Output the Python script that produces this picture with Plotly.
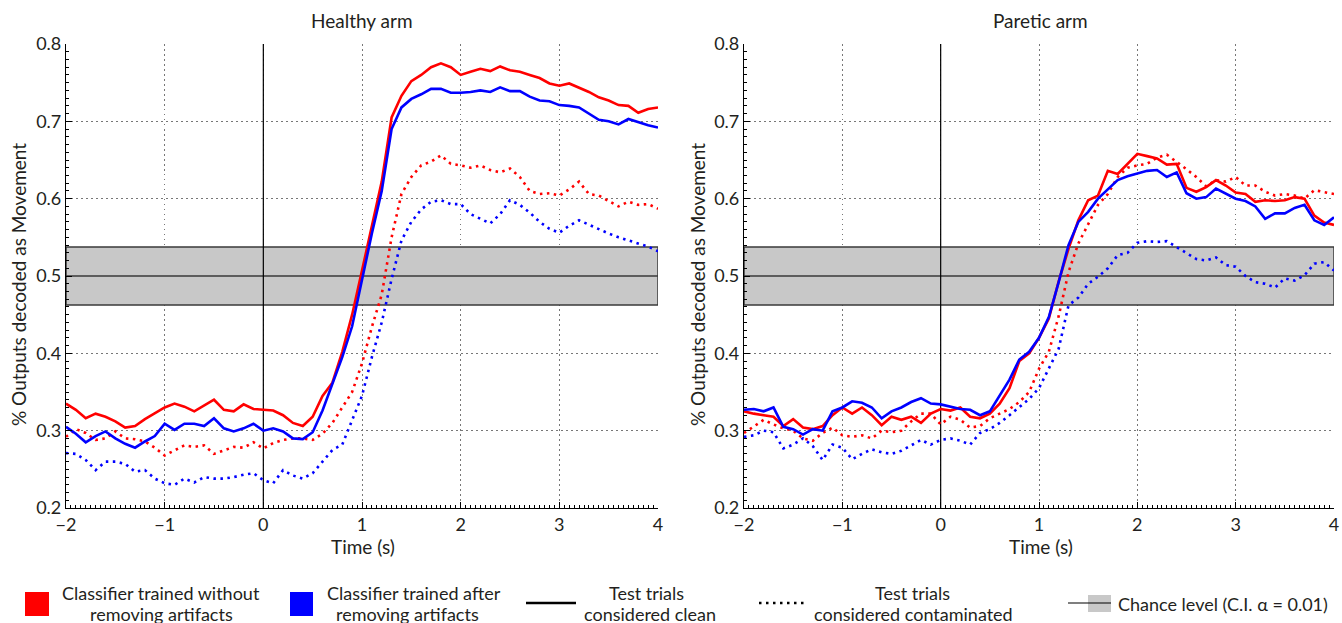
import plotly.graph_objects as go

# ---------------- data ----------------
TIME = [round(-2 + 0.1 * i, 1) for i in range(61)]

HEALTHY_RED_CLEAN = [
    0.335, 0.327, 0.316, 0.322, 0.318, 0.312, 0.304, 0.306, 0.315, 0.322,
    0.330, 0.335, 0.331, 0.325, 0.332, 0.340, 0.327, 0.325, 0.334, 0.328,
    0.327, 0.326, 0.320, 0.310, 0.306, 0.318, 0.345, 0.362, 0.402, 0.450,
    0.507, 0.566, 0.622, 0.705, 0.733, 0.752, 0.760, 0.770, 0.775, 0.770,
    0.760, 0.764, 0.768, 0.765, 0.771, 0.766, 0.764, 0.760, 0.756, 0.749,
    0.746, 0.749, 0.744, 0.738, 0.731, 0.727, 0.721, 0.720, 0.711, 0.716,
    0.718]
HEALTHY_BLUE_CLEAN = [
    0.305, 0.296, 0.285, 0.293, 0.299, 0.290, 0.283, 0.278, 0.286, 0.293,
    0.309, 0.301, 0.309, 0.309, 0.306, 0.316, 0.303, 0.299, 0.303, 0.309,
    0.300, 0.303, 0.299, 0.290, 0.289, 0.298, 0.326, 0.360, 0.395, 0.435,
    0.497, 0.555, 0.610, 0.690, 0.718, 0.729, 0.735, 0.742, 0.742, 0.737,
    0.737, 0.738, 0.740, 0.738, 0.744, 0.739, 0.739, 0.732, 0.727, 0.726,
    0.721, 0.720, 0.718, 0.710, 0.702, 0.700, 0.696, 0.703, 0.699, 0.695,
    0.692]
HEALTHY_RED_CONTAM = [
    0.292, 0.302, 0.297, 0.288, 0.290, 0.299, 0.290, 0.289, 0.286, 0.278,
    0.268, 0.274, 0.281, 0.279, 0.281, 0.270, 0.275, 0.279, 0.278, 0.285,
    0.277, 0.284, 0.288, 0.290, 0.290, 0.288, 0.296, 0.310, 0.330, 0.350,
    0.387, 0.434, 0.476, 0.550, 0.606, 0.628, 0.643, 0.648, 0.656, 0.645,
    0.643, 0.640, 0.643, 0.637, 0.634, 0.639, 0.628, 0.610, 0.606, 0.607,
    0.604, 0.612, 0.622, 0.606, 0.604, 0.597, 0.590, 0.596, 0.592, 0.593,
    0.587]
HEALTHY_BLUE_CONTAM = [
    0.271, 0.270, 0.262, 0.249, 0.260, 0.260, 0.257, 0.247, 0.249, 0.238,
    0.232, 0.230, 0.238, 0.233, 0.240, 0.238, 0.238, 0.240, 0.243, 0.245,
    0.236, 0.232, 0.249, 0.242, 0.238, 0.245, 0.260, 0.275, 0.282, 0.314,
    0.345, 0.395, 0.440, 0.496, 0.546, 0.570, 0.586, 0.596, 0.598, 0.593,
    0.593, 0.580, 0.574, 0.568, 0.580, 0.598, 0.592, 0.582, 0.570, 0.561,
    0.556, 0.565, 0.572, 0.566, 0.560, 0.555, 0.550, 0.546, 0.541, 0.538,
    0.532]

PARETIC_RED_CLEAN = [
    0.325, 0.322, 0.320, 0.318, 0.306, 0.315, 0.304, 0.302, 0.306, 0.320,
    0.330, 0.322, 0.330, 0.320, 0.307, 0.318, 0.314, 0.318, 0.310, 0.322,
    0.328, 0.326, 0.330, 0.318, 0.316, 0.322, 0.335, 0.355, 0.390, 0.400,
    0.420, 0.445, 0.493, 0.535, 0.572, 0.598, 0.604, 0.636, 0.632, 0.645,
    0.658, 0.655, 0.652, 0.644, 0.645, 0.614, 0.609, 0.615, 0.624, 0.617,
    0.608, 0.606, 0.596, 0.598, 0.597, 0.598, 0.602, 0.600, 0.578, 0.569,
    0.566]
PARETIC_BLUE_CLEAN = [
    0.327, 0.328, 0.325, 0.330, 0.305, 0.302, 0.295, 0.302, 0.300, 0.325,
    0.330, 0.338, 0.336, 0.330, 0.316, 0.325, 0.330, 0.337, 0.342, 0.335,
    0.334, 0.331, 0.328, 0.327, 0.320, 0.325, 0.346, 0.366, 0.392, 0.402,
    0.420, 0.447, 0.492, 0.540, 0.570, 0.583, 0.600, 0.612, 0.624, 0.629,
    0.632, 0.636, 0.637, 0.628, 0.634, 0.607, 0.600, 0.602, 0.613, 0.606,
    0.600, 0.597, 0.590, 0.574, 0.581, 0.581, 0.588, 0.592, 0.572, 0.566,
    0.576]
PARETIC_RED_CONTAM = [
    0.297, 0.305, 0.314, 0.308, 0.303, 0.300, 0.290, 0.287, 0.297, 0.304,
    0.294, 0.292, 0.294, 0.290, 0.300, 0.298, 0.300, 0.312, 0.322, 0.322,
    0.308, 0.318, 0.314, 0.304, 0.306, 0.316, 0.322, 0.328, 0.337, 0.350,
    0.380, 0.402, 0.448, 0.505, 0.542, 0.568, 0.592, 0.606, 0.628, 0.640,
    0.643, 0.645, 0.653, 0.657, 0.648, 0.638, 0.628, 0.616, 0.624, 0.622,
    0.628, 0.617, 0.617, 0.609, 0.604, 0.606, 0.604, 0.600, 0.611, 0.608,
    0.606]
PARETIC_BLUE_CONTAM = [
    0.292, 0.294, 0.300, 0.298, 0.277, 0.282, 0.290, 0.280, 0.262, 0.282,
    0.278, 0.263, 0.270, 0.276, 0.272, 0.270, 0.274, 0.281, 0.288, 0.282,
    0.288, 0.290, 0.287, 0.282, 0.297, 0.302, 0.310, 0.320, 0.330, 0.341,
    0.355, 0.380, 0.406, 0.462, 0.472, 0.490, 0.499, 0.510, 0.527, 0.530,
    0.543, 0.545, 0.544, 0.545, 0.537, 0.530, 0.522, 0.520, 0.524, 0.514,
    0.512, 0.500, 0.492, 0.490, 0.485, 0.497, 0.494, 0.501, 0.516, 0.518,
    0.507]

CHANCE_LO = 0.4625
CHANCE_MID = 0.5
CHANCE_HI = 0.5375
ONSET_TIME = 0

X_RANGE = [-2, 4]
Y_RANGE = [0.2, 0.8]
X_TICKS = [-2, -1, 0, 1, 2, 3, 4]
X_TICK_LABELS = ["\u22122", "\u22121", "0", "1", "2", "3", "4"]
Y_TICKS = [0.2, 0.3, 0.4, 0.5, 0.6, 0.7, 0.8]
Y_TICK_LABELS = ["0.2", "0.3", "0.4", "0.5", "0.6", "0.7", "0.8"]

PANEL_TITLES = ["Healthy arm", "Paretic arm"]
X_TITLE = "Time (s)"
Y_TITLE = "% Outputs decoded as Movement"
LEGEND_LABELS = [
    ["Classifier trained without", "removing artifacts"],
    ["Classifier trained after", "removing artifacts"],
    ["Test trials", "considered clean"],
    ["Test trials", "considered contaminated"],
    ["Chance level (C.I. \u03b1 = 0.01)"],
]

# ---------------- styling ----------------
W, H = 1342, 623
PLOT_L, PLOT_R, PLOT_T, PLOT_B = 66, 1334, 44, 508   # page pixels
ML, MT = PLOT_L, PLOT_T
MR, MB = W - PLOT_R, H - PLOT_B
PW = PLOT_R - PLOT_L
PH = PLOT_B - PLOT_T
FONT = "Lato, 'Open Sans', sans-serif"
TXT = "#231f20"
RED = "#ff0000"
BLUE = "#0000ff"
BAND = "#c8c8c8"
BAND_EDGE = "#3a3a3a"
DOT = "2.5px,4.5px"


def px(xp):
    return (xp - PLOT_L) / PW


def py(yp):
    return (PLOT_B - yp) / PH


DOM1 = [0, px(658)]
DOM2 = [px(744), 1]

fig = go.Figure()

panels = [
    ("x", "y", HEALTHY_RED_CLEAN, HEALTHY_BLUE_CLEAN, HEALTHY_RED_CONTAM, HEALTHY_BLUE_CONTAM),
    ("x2", "y2", PARETIC_RED_CLEAN, PARETIC_BLUE_CLEAN, PARETIC_RED_CONTAM, PARETIC_BLUE_CONTAM),
]
for xa, ya, rc, bc, rd, bd in panels:
    # chance-level band
    fig.add_trace(go.Scatter(
        x=[X_RANGE[0], X_RANGE[1], X_RANGE[1], X_RANGE[0], X_RANGE[0]],
        y=[CHANCE_LO, CHANCE_LO, CHANCE_HI, CHANCE_HI, CHANCE_LO],
        xaxis=xa, yaxis=ya, mode="lines", fill="toself", fillcolor=BAND,
        line=dict(color=BAND_EDGE, width=1.5), showlegend=False, hoverinfo="skip"))
    fig.add_trace(go.Scatter(
        x=X_RANGE, y=[CHANCE_MID, CHANCE_MID], xaxis=xa, yaxis=ya, mode="lines",
        line=dict(color=BAND_EDGE, width=1.5), showlegend=False, hoverinfo="skip"))
    # movement onset
    fig.add_trace(go.Scatter(
        x=[ONSET_TIME, ONSET_TIME], y=Y_RANGE, xaxis=xa, yaxis=ya, mode="lines",
        line=dict(color="black", width=1.2), showlegend=False, hoverinfo="skip"))
    for vals, col, dash in [(rd, RED, DOT), (bd, BLUE, DOT), (rc, RED, "solid"), (bc, BLUE, "solid")]:
        fig.add_trace(go.Scatter(
            x=TIME, y=vals, xaxis=xa, yaxis=ya, mode="lines",
            line=dict(color=col, width=2.6, dash=dash),
            showlegend=False, hoverinfo="skip"))

axis_common = dict(
    showline=True, linecolor="black", linewidth=1.2,
    ticks="inside", ticklen=6, tickwidth=1, tickcolor="black",
    showgrid=True, gridcolor="#777777", griddash="1.5px,3.5px", gridwidth=1,
    zeroline=False, mirror=False,
    tickfont=dict(family=FONT, size=18, color=TXT),
)
xcfg = dict(axis_common, range=X_RANGE, tickvals=X_TICKS, ticktext=X_TICK_LABELS,
            minor=dict(ticks="inside", ticklen=3, tickcolor="black", dtick=0.05, showgrid=False))
ycfg = dict(axis_common, range=Y_RANGE, tickvals=Y_TICKS, ticktext=Y_TICK_LABELS,
            minor=dict(ticks="inside", ticklen=3, tickcolor="black", dtick=0.01, showgrid=False))

fig.update_layout(
    width=W, height=H,
    margin=dict(l=ML, r=MR, t=MT, b=MB, autoexpand=False),
    paper_bgcolor="white", plot_bgcolor="white",
    showlegend=False,
    xaxis=dict(xcfg, domain=DOM1, anchor="y"),
    yaxis=dict(ycfg, domain=[0, 1], anchor="x"),
    xaxis2=dict(xcfg, domain=DOM2, anchor="y2"),
    yaxis2=dict(ycfg, domain=[0, 1], anchor="x2"),
)

# legend decorations (paper coordinates)
shapes = [
    dict(type="rect", xref="paper", yref="paper", x0=px(25), x1=px(49), y0=py(616), y1=py(592),
         fillcolor=RED, line=dict(width=0)),
    dict(type="rect", xref="paper", yref="paper", x0=px(290), x1=px(313), y0=py(616), y1=py(592),
         fillcolor=BLUE, line=dict(width=0)),
    dict(type="line", xref="paper", yref="paper", x0=px(526), x1=px(576), y0=py(603), y1=py(603),
         line=dict(color="black", width=2.6)),
    dict(type="line", xref="paper", yref="paper", x0=px(759), x1=px(806), y0=py(603), y1=py(603),
         line=dict(color="black", width=2.6, dash=DOT)),
    dict(type="rect", xref="paper", yref="paper", x0=px(1088), x1=px(1111), y0=py(612), y1=py(595),
         fillcolor=BAND, line=dict(width=0)),
    dict(type="line", xref="paper", yref="paper", x0=px(1068), x1=px(1111), y0=py(603), y1=py(603),
         line=dict(color="black", width=1.2)),
]
fig.update_layout(shapes=shapes)

ann = []
font19 = dict(family=FONT, size=19, color=TXT)
font18 = dict(family=FONT, size=18, color=TXT)
for title, cx in zip(PANEL_TITLES, [362, 1040]):
    ann.append(dict(text=title, x=px(cx), y=py(20), xref="paper", yref="paper",
                    showarrow=False, xanchor="center", yanchor="middle", font=font19))
for cx in [363, 1041]:
    ann.append(dict(text=X_TITLE, x=px(cx), y=py(546), xref="paper", yref="paper",
                    showarrow=False, xanchor="center", yanchor="middle", font=font19))
for cx in [18, 697]:
    ann.append(dict(text=Y_TITLE, x=px(cx), y=py(285), xref="paper", yref="paper", textangle=-90,
                    showarrow=False, xanchor="center", yanchor="middle", font=font19))

legend_pos = [(161, 161), (414, 407), (646, 650), (912, 914)]
for lines, (c1, c2) in zip(LEGEND_LABELS[:4], legend_pos):
    ann.append(dict(text=lines[0], x=px(c1), y=py(593), xref="paper", yref="paper",
                    showarrow=False, xanchor="center", yanchor="middle", font=font18))
    ann.append(dict(text=lines[1], x=px(c2), y=py(614), xref="paper", yref="paper",
                    showarrow=False, xanchor="center", yanchor="middle", font=font18))
ann.append(dict(text=LEGEND_LABELS[4][0], x=px(1116), y=py(604), xref="paper", yref="paper",
                showarrow=False, xanchor="left", yanchor="middle", font=font18))
fig.update_layout(annotations=ann)

fig.write_html(
    "out.html",
    config={"displayModeBar": False},
    post_script="document.body.style.margin='0';document.body.style.overflow='hidden';",
)
